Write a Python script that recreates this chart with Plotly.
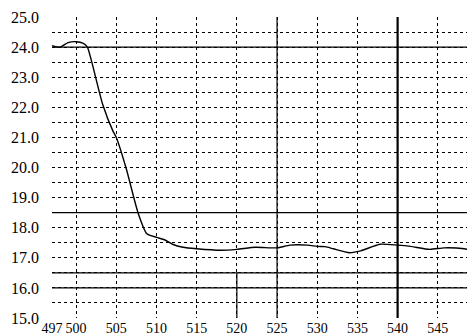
import plotly.graph_objects as go

wavelength = [497, 498, 499, 500, 500.9, 501.4, 502.0, 503.3, 504.6, 505.0, 506.2, 507.7, 508.8,
              510.0, 511.0, 512.0, 513.3, 515.0, 518.0, 520.0, 522.3, 525.0, 526.6, 528.8, 530.0,
              531.0, 532.0, 534.0, 535.4, 537.8, 540.0, 541.6, 544.0, 545.8, 548.3, 549.6]
value = [24.05, 24.0, 24.15, 24.18, 24.12, 24.0, 23.45, 22.1, 21.2, 21.0, 20.0, 18.5, 17.8,
         17.68, 17.6, 17.45, 17.35, 17.3, 17.25, 17.28, 17.35, 17.33, 17.42, 17.42, 17.38,
         17.37, 17.3, 17.17, 17.23, 17.45, 17.42, 17.38, 17.28, 17.33, 17.3, 17.23]

x_ticks = [497, 500, 505, 510, 515, 520, 525, 530, 535, 540, 545]
y_ticks = [15, 16, 17, 18, 19, 20, 21, 22, 23, 24, 25]
solid_h = [24.0, 18.5, 16.5, 16.0]
solid_v = [525, 540]

fig = go.Figure()
fig.add_trace(go.Scatter(x=wavelength, y=value, mode="lines",
                         line=dict(color="black", width=1.4, shape="spline", smoothing=0.6),
                         showlegend=False))

for h in solid_h:
    fig.add_shape(type="line", xref="paper", x0=0, x1=1, y0=h, y1=h,
                  line=dict(color="black", width=1.2), layer="below")
for v in solid_v:
    fig.add_shape(type="line", yref="paper", x0=v, x1=v, y0=0, y1=1,
                  line=dict(color="black", width=2.2 if v == 540 else 1.2), layer="below")
fig.add_shape(type="line", x0=520, x1=520, y0=15, y1=16.5,
              line=dict(color="black", width=1.2), layer="below")

fig.update_layout(
    width=475, height=336,
    margin=dict(l=44, r=1, t=7, b=26),
    paper_bgcolor="white", plot_bgcolor="white",
    font=dict(family="Liberation Serif", size=16, color="black"),
    xaxis=dict(range=[497, 550.5], tickvals=x_ticks, showgrid=True, gridcolor="black",
               griddash="dot", gridwidth=1, zeroline=False, showline=False, ticks="",
               tickfont=dict(size=14), ticklabelstandoff=0, tickangle=0,
               ticklabeloverflow="allow"),
    yaxis=dict(range=[15, 25], tickvals=y_ticks, tickformat=".1f", showgrid=True,
               gridcolor="black", griddash="dot", gridwidth=1, zeroline=False,
               showline=False, ticks="", ticklabelstandoff=12, ticklabeloverflow="allow",
               minor=dict(dtick=0.5, tick0=15, showgrid=True, gridcolor="black",
                          griddash="dot", gridwidth=1)),
)

fig.write_html("out.html")
